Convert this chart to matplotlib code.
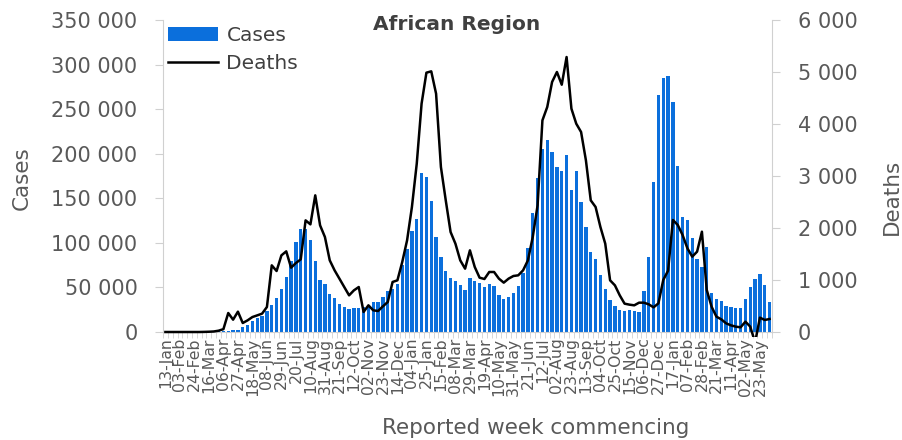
import numpy as np
import matplotlib.pyplot as plt
from matplotlib.lines import Line2D
from matplotlib.patches import Patch, Rectangle
from matplotlib.ticker import FuncFormatter
from matplotlib.transforms import ScaledTranslation

# weekly values, African Region, week commencing 13-Jan-2020 onwards
cases = [0, 0, 0, 0, 0, 0, 0, 10, 50, 200,
         400, 700, 1000, 1500, 1900, 2600, 5200, 8200, 12000, 15300,
         17600, 23200, 30300, 37800, 48600, 62100, 80000, 101000, 116000, 115200,
         103200, 79700, 58700, 54200, 43000, 37800, 31800, 27700, 26200, 26500,
         27000, 28000, 29200, 33700, 33700, 39300, 46000, 48200, 53500, 74800,
         92700, 113700, 126400, 178700, 173500, 147300, 106900, 84500, 68000, 60200,
         56800, 52300, 47100, 60200, 57600, 55000, 50500, 53800, 52000, 41100,
         36600, 39600, 44100, 51600, 66600, 94200, 133100, 172700, 204900, 215400,
         201900, 184700, 181000, 198200, 158900, 180200, 145400, 117400, 89400, 81500,
         63600, 47900, 35500, 29200, 24300, 23200, 25100, 23200, 22100, 46400,
         84500, 168600, 265800, 284500, 287500, 258400, 186200, 129400, 125600, 105400,
         81900, 72500, 95700, 43400, 37000, 34400, 29200, 28000, 26900, 26900,
         37000, 50500, 59400, 65400, 52700, 33300]

deaths = [0, 0, 0, 0, 0, 0, 0, 0, 2, 5,
          10, 25, 55, 365, 237, 391, 173, 224, 288, 320,
          353, 481, 1282, 1173, 1474, 1551, 1237, 1327, 1397, 2147,
          2070, 2628, 2051, 1827, 1378, 1186, 1026, 865, 705, 801,
          865, 385, 513, 417, 404, 494, 577, 962, 994, 1346,
          1763, 2404, 3237, 4391, 4987, 5013, 4583, 3173, 2532, 1923,
          1699, 1378, 1218, 1570, 1250, 1045, 1019, 1154, 1154, 1026,
          949, 1026, 1077, 1090, 1186, 1378, 1827, 2436, 4070, 4327,
          4808, 5000, 4756, 5288, 4295, 4006, 3846, 3301, 2532, 2404,
          2019, 1699, 994, 897, 705, 545, 526, 513, 564, 564,
          532, 474, 551, 1000, 1180, 2154, 2058, 1865, 1609, 1449,
          1545, 1929, 808, 487, 295, 244, 167, 128, 103, 90,
          199, 103, -200, 276, 231, 250]

week_labels = ["13-Jan", "03-Feb", "24-Feb", "16-Mar", "06-Apr", "27-Apr", "18-May",
               "08-Jun", "29-Jun", "20-Jul", "10-Aug", "31-Aug", "21-Sep", "12-Oct",
               "02-Nov", "23-Nov", "14-Dec", "04-Jan", "25-Jan", "15-Feb", "08-Mar",
               "29-Mar", "19-Apr", "10-May", "31-May", "21-Jun", "12-Jul", "02-Aug",
               "23-Aug", "13-Sep", "04-Oct", "25-Oct", "15-Nov", "06-Dec", "27-Dec",
               "17-Jan", "07-Feb", "28-Feb", "21-Mar", "11-Apr", "02-May", "23-May"]

grey = "#595959"
axis_col = "#d0d0d0"


def space_thousands(v, pos):
    return f"{int(v):,}".replace(",", " ")


fig = plt.figure(figsize=(9.03, 4.40), dpi=100)
ax = fig.add_axes([163 / 903, 1 - 332 / 440, (772 - 163) / 903, 312 / 440])
ax2 = ax.twinx()

x = np.arange(len(cases))
ax.bar(x, cases, width=0.7, color="#0b6fdc")
line, = ax2.plot(x, deaths, color="black", lw=1.8)
line.set_clip_path(Rectangle((0, -0.015), 1, 1.03, transform=ax2.transAxes))

ax.set_xlim(-0.5, len(x) - 0.5)
ax.set_ylim(0, 350000)
ax.set_yticks(range(0, 350001, 50000))
ax2.set_ylim(0, 6000)
ax2.set_yticks(range(0, 6001, 1000))
ax.yaxis.set_major_formatter(FuncFormatter(space_thousands))
ax2.yaxis.set_major_formatter(FuncFormatter(space_thousands))

ax.set_xticks(x[::3])
ax.set_xticklabels(week_labels, rotation=90, fontsize=11.3, color=grey)
# labels sit a little right of the category centre in the original
shift = ScaledTranslation(8 / 100, 0, fig.dpi_scale_trans)
for lab in ax.get_xticklabels():
    lab.set_transform(lab.get_transform() + shift)
ax.set_xticks(np.arange(-0.5, len(x), 1), minor=True)
ax.tick_params(axis="x", which="major", length=0, pad=4)
ax.tick_params(axis="x", which="minor", length=4, color=axis_col)
ax.tick_params(axis="y", length=5.8, color=axis_col, labelsize=15, labelcolor=grey, pad=12.5)
ax2.tick_params(axis="y", length=5.8, color=axis_col, labelsize=15, labelcolor=grey, pad=13)

for s in ["top", "right"]:
    ax.spines[s].set_visible(False)
for s in ["left", "bottom"]:
    ax.spines[s].set_color(axis_col)
for s in ["top", "left", "bottom"]:
    ax2.spines[s].set_visible(False)
ax2.spines["right"].set_color(axis_col)

handles = [Patch(facecolor="#0b6fdc"), Line2D([], [], color="black", lw=1.8)]
leg = fig.legend(handles, ["Cases", "Deaths"], loc="upper left",
                 bbox_to_anchor=(168 / 903, 1 - 26 / 440), frameon=False,
                 fontsize=14.5, handlelength=2.5, handleheight=0.65,
                 handletextpad=0.4, labelspacing=0.45, borderpad=0, borderaxespad=0)
for t in leg.get_texts():
    t.set_color("#404040")

fig.text(457 / 903, 1 - 25 / 440, "African Region", ha="center", va="center",
         fontsize=14.5, fontweight="bold", color="#404040")
fig.text(536 / 903, 1 - 428 / 440, "Reported week commencing", ha="center",
         va="center", fontsize=15.5, color=grey)
fig.text(22 / 903, 1 - 178 / 440, "Cases", rotation=90, ha="center", va="center",
         fontsize=15.5, color=grey)
fig.text(892 / 903, 1 - 197 / 440, "Deaths", rotation=90, ha="center", va="center",
         fontsize=15.5, color=grey)

fig.savefig("out.png", dpi=100)
